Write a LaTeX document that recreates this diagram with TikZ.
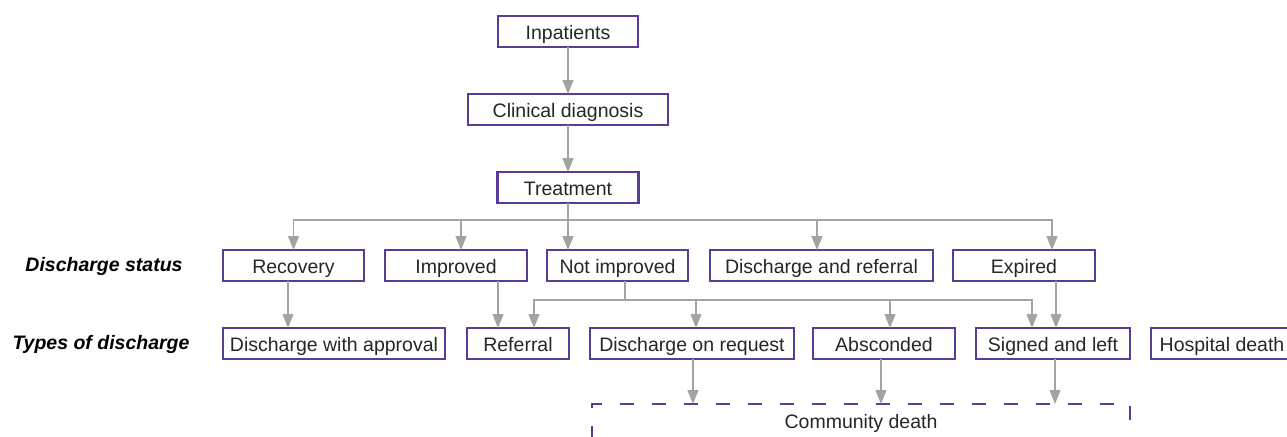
\documentclass[tikz,border=0pt]{standalone}
\usepackage{fontspec}
\setmainfont{Liberation Sans}
\usepackage{tikz}
\usetikzlibrary{arrows.meta}
\usetikzlibrary{positioning}
\definecolor{stagepurple}{HTML}{5B3B9A}
\definecolor{flowgrey}{HTML}{A3A3A3}
\definecolor{stagetext}{HTML}{262626}
\tikzset{
    stage/.style={
           rectangle,
           draw=stagepurple, line width=1.1pt,
           outer sep=0pt,
           minimum height=15.5pt,
           inner sep=2pt,
           text height=8.7pt, text depth=1pt,
           text=stagetext,
           font=\fontsize{9.75}{11}\selectfont,
           text centered,
           },
}
\tikzset{
    maybe/.style={
           stage,
           text height=10pt, text depth=10pt,
           dash pattern=on 7pt off 9pt,
           dash phase=3pt,
           },
}
\tikzset{
    rowlabel/.style={
           text=black,
           font=\fontsize{9.75}{11}\selectfont\bfseries\itshape,
           },
}
\tikzset{
    flow/.style={
           color=flowgrey, line width=0.6pt,
           },
}

\begin{document}
\begin{tikzpicture}[x=0.5pt,y=-0.5pt,>={Triangle[length=7pt,width=5.5pt]}]
 \clip (0,0) rectangle (1287,436);

 \node[stage,minimum width=70pt](Inpatients) at (568,31.5)
 {Inpatients
  };

 \node[stage,
  below=23.5pt of Inpatients,
  minimum width=100pt](Clinical)
 {Clinical diagnosis
 };

 \node[stage,
  below=23.5pt of Clinical,
  minimum width=70.5pt](Treatment)
 {Treatment
 };

 % discharge status row
 \node[stage,minimum width=70.5pt](Recovery) at (293.5,265.5)
 {Recovery
 };
 \node[stage,right=10.5pt of Recovery,minimum width=71pt](Improved)
 {Improved
 };
 \node[stage,right=10pt of Improved,minimum width=70.5pt](NotImproved)
 {Not improved
 };
 \node[stage,right=11pt of NotImproved,minimum width=111.5pt](DisRef)
 {Discharge and referral
 };
 \node[stage,right=10pt of DisRef,minimum width=71pt](Expired)
 {Expired
 };

 % types of discharge row
 \node[stage,minimum width=111pt](Approval) at (334,343.5)
 {Discharge with approval
 };
 \node[stage,right=11pt of Approval,minimum width=51pt](Referral)
 {Referral
 };
 \node[stage,right=10.5pt of Referral,minimum width=102pt](Request)
 {Discharge on request
 };
 \node[stage,right=9.5pt of Request,minimum width=71pt](Absconded)
 {Absconded
 };
 \node[stage,right=10.5pt of Absconded,minimum width=77pt](Signed)
 {Signed and left
 };
 \node[stage,right=10.5pt of Signed,minimum width=71pt](HospDeath)
 {Hospital death
 };

 \node[maybe,anchor=base,minimum width=269pt](CommDeath) at (861,428)
 {Community death
 };

 \node[rowlabel](StatusLabel) at (104,266) {Discharge status};
 \node[rowlabel](TypesLabel) at (101,344) {Types of discharge};

 \path[flow,->] (Inpatients) edge (Clinical)
       (Clinical) edge (Treatment);

 \coordinate (split) at (568,220);
 \draw[flow] (Treatment) -- (split);
 \draw[flow,->] (split) -| (Recovery);
 \draw[flow,->] (split) -| ([xshift=2.5pt]Improved.north);
 \draw[flow,->] (split) -- (split |- NotImproved.north);
 \draw[flow,->] (split) -| ([xshift=-2.25pt]DisRef.north);
 \draw[flow,->] (split) -| ([xshift=14pt]Expired.north);

 \draw[flow,->] ([xshift=-2.75pt]Recovery.south) -- ([xshift=-2.75pt]Recovery.south |- Approval.north);
 \draw[flow,->] ([xshift=21pt]Improved.south) -- ([xshift=21pt]Improved.south |- Referral.north);

 \coordinate (split2) at (625,300);
 \draw[flow] (NotImproved.south -| split2) -- (split2);
 \draw[flow,->] (split2) -| ([xshift=8pt]Referral.north);
 \draw[flow,->] (split2) -| ([xshift=2pt]Request.north);
 \draw[flow,->] (split2) -| ([xshift=3pt]Absconded.north);
 \draw[flow,->] (split2) -| ([xshift=-10.5pt]Signed.north);
 \draw[flow,->] ([xshift=16pt]Expired.south) -- ([xshift=16pt]Expired.south |- Signed.north);

 \path[flow,->] ([xshift=0.5pt]Request.south) edge ([xshift=0.5pt]Request.south |- CommDeath.north)
 ([xshift=-1.5pt]Absconded.south) edge ([xshift=-1.5pt]Absconded.south |- CommDeath.north)
 ([xshift=1pt]Signed.south) edge ([xshift=1pt]Signed.south |- CommDeath.north)
;

\end{tikzpicture}
\end{document}
